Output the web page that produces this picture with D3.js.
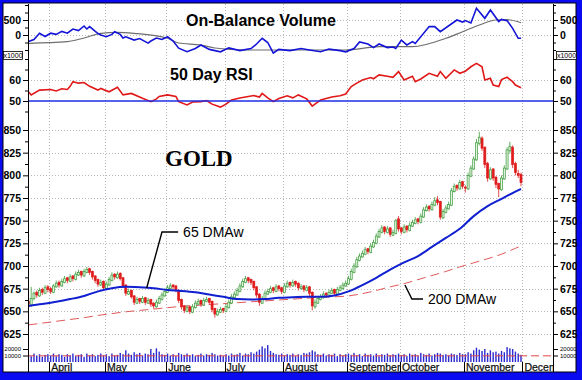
<!DOCTYPE html>
<html>
<head>
<meta charset="utf-8">
<script src="https://cdn.jsdelivr.net/npm/d3@7"></script>
<style>
body{margin:0;background:#fff;}
svg{display:block;font-family:Arial,"Liberation Sans",sans-serif;}
</style>
</head>
<body>
<svg id="chart" width="582" height="380"></svg>
<script>
// month labels and the trading-day index where each month starts
var monthNames = ["April","May","June","July","August","September","October","November","December"];
var monthStart = [8, 28, 50, 71, 92, 115, 134, 157, 178];

// daily gold candles [open, high, low, close], 21 Mar .. 30 Nov
var ohlc = [
  // March
  [661,665,655,658],[657,677,655,664],[664,672,662,670],[671,673,665,668],[667,676,666,673],[674,676,668,671],[670,679,669,676],[677,679,671,674],
  // April
  [675,677,669,672],[671,680,670,678],[677,684,676,681],[682,684,676,679],[678,686,677,683],[682,689,681,686],[687,688,681,684],[683,691,682,688],
  [689,690,683,686],[685,694,684,691],[690,696,689,693],[694,695,687,690],[689,697,688,694],[693,699,692,696],[697,698,690,693],[694,695,685,688],
  [689,690,681,684],[685,686,677,680],[679,685,678,682],[683,684,673,676],
  // May
  [675,683,674,680],[679,688,678,685],[684,693,683,690],[691,692,685,688],[687,694,686,691],[692,693,684,686],[687,688,676,678],[679,680,667,670],
  [669,675,668,672],[673,674,664,666],[667,668,657,660],[659,666,658,663],[664,665,658,661],[660,667,659,664],[665,666,657,660],[659,665,658,662],
  [663,664,655,658],[659,660,653,656],[655,663,654,660],[659,667,658,664],[663,671,662,668],[667,675,666,672],
  // June
  [671,679,670,676],[675,681,674,678],[679,680,674,677],[678,679,671,674],[673,674,659,662],[663,664,652,655],[656,657,648,651],[650,657,649,654],
  [655,656,647,650],[649,658,648,655],[654,662,653,659],[658,664,657,661],[662,663,655,658],[657,665,656,662],[661,666,660,663],[664,665,657,660],
  [661,662,649,652],[653,654,643,647],[646,653,645,650],[649,655,648,652],[653,654,648,651],
  // July
  [650,658,649,655],[654,663,653,660],[659,669,658,666],[665,672,664,669],[668,676,667,673],[672,681,671,678],[677,686,676,683],[682,689,681,686],
  [687,688,681,684],[685,686,679,682],[683,684,673,676],[677,678,665,668],[669,670,656,660],[659,667,658,664],[663,673,662,670],[669,675,668,672],
  [671,678,670,675],[676,677,670,673],[672,680,671,677],[678,679,672,675],[676,677,669,672],
  // August
  [671,681,670,678],[677,684,676,681],[682,683,676,679],[678,685,677,682],[683,684,677,680],[681,682,673,676],[675,680,674,677],[678,679,671,674],
  [673,679,672,676],[677,678,667,670],[671,672,651,656],[655,663,653,660],[659,667,658,664],[663,669,662,666],[665,672,664,669],[670,671,665,668],
  [667,674,666,671],[670,676,669,673],[674,675,667,670],[669,677,668,674],[673,679,672,676],[675,682,674,679],[678,684,677,681],
  // September
  [680,689,679,686],[685,697,684,694],[693,703,692,700],[699,710,698,707],[706,714,705,711],[710,717,709,714],[713,721,712,718],[719,720,713,716],
  [715,725,714,722],[721,729,720,726],[725,736,724,733],[732,741,731,738],[737,745,736,742],[743,744,735,738],[737,744,736,741],[742,743,732,735],
  [734,740,733,737],[736,752,735,750],[752,755,738,741],
  // October
  [742,743,735,738],[737,746,736,743],[744,745,737,740],[739,748,738,745],[744,751,743,748],[747,754,746,751],[752,753,746,749],[748,758,747,755],
  [754,765,753,762],[761,768,760,765],[766,767,760,763],[762,771,761,768],[767,776,766,772],[773,777,767,770],[771,772,751,754],[753,763,752,760],
  [759,767,758,764],[763,771,762,768],[767,786,766,783],[782,791,781,788],[789,790,783,786],[785,795,784,792],[793,794,785,788],
  // November
  [787,789,781,786],[785,803,784,800],[799,811,798,808],[807,821,806,818],[817,840,816,836],[835,848,833,842],[841,843,827,830],[831,832,808,812],
  [813,815,793,797],[796,809,795,806],[807,808,794,797],[798,799,786,790],[791,792,776,785],[784,800,783,797],[796,811,795,808],[807,831,806,828],
  [827,837,824,832],[831,833,808,812],[813,815,800,803],[802,806,797,800],[801,803,788,792]
];

// daily volume, thousands
var volume = [
  12,9,13,10,12,8,11,12,
  10,13,9,12,11,8,12,10,13,9,11,12,8,13,10,12,9,11,13,10,
  12,9,13,10,11,14,12,18,13,11,15,12,14,10,13,12,20,14,21,16,12,11,
  13,10,12,9,14,12,11,13,10,12,9,11,13,10,12,11,14,12,10,11,9,
  12,10,13,11,12,14,10,13,12,15,13,16,19,24,21,26,17,14,12,11,13,
  10,12,11,13,9,12,11,14,13,15,18,16,12,11,13,10,12,11,13,9,12,10,12,
  13,11,14,10,12,9,13,11,12,10,13,9,12,11,13,10,12,11,13,
  10,12,9,13,11,12,10,14,12,11,13,10,12,14,13,11,12,10,13,12,11,14,12,
  12,15,13,18,22,19,17,20,14,18,15,16,13,17,15,23,21,20,16,13,11
];
var volMaDays = [0, 189];
var volMa = [9.5, 9.5];

// moving averages, read every 5th trading day
var maDays = [0,5,10,15,20,25,30,35,40,45,50,55,60,65,70,75,80,85,90,95,100,105,110,115,120,125,130,135,140,145,150,155,160,165,170,175,177];
var ma65 = [656,658,660.5,663.5,667,672,675.5,677,676.5,675.5,673.5,672.5,671,668.5,666,663.5,663,663.5,665,665.5,666,666,667.5,672,679,687,696,704,711,721,731,741,755,766,774,782,785];
var ma200 = [635,637,639,641,643,645.5,647.5,649.5,651,652.5,654,655.5,656.5,657.5,658.5,659.5,660.5,661.5,662.5,663.5,664.5,665.5,666,667,669.5,673,677,680.5,685,689.5,694,699,703.5,708,713,719.5,722];

// on-balance volume (x1000) and its average
var obvDays = [0,2,4,6,8,10,12,14,16,18,20,21,22,25,26,28,30,31,33,34,35,38,40,43,44,46,48,50,52,54,57,60,62,65,69,72,76,80,82,84,86,88,90,94,98,101,105,108,112,114,117,119,122,124,126,129,131,132,134,136,138,139,144,146,148,154,156,157,159,161,164,166,169,170,172,174,176,177];
var obv = [-220,-150,56,-50,60,20,120,60,200,150,300,200,280,50,0,-56,20,110,20,-100,-60,-170,-120,-270,-200,-100,-150,-60,-200,-440,-555,-450,-333,-480,-560,-430,-520,-450,-300,-110,-250,-600,-480,-520,-450,-500,-560,-470,-520,-560,-450,-230,-300,-420,-300,-420,-400,-450,-170,-330,-220,-280,280,280,110,500,430,480,400,890,556,833,450,520,480,222,-110,-110];
var obvMaDays = [0,14,20,26,32,38,50,54,62,67,78,90,114,126,138,150,156,162,168,172,177];
var obvMa = [-277,-222,-100,56,90,56,-110,-267,-333,-433,-500,-500,-500,-390,-390,-110,110,333,500,510,410];

// 50 day RSI
var rsiDays = [0,1,4,8,10,12,14,15,16,18,20,22,25,26,29,32,34,37,41,44,46,47,50,53,54,57,59,62,64,66,69,71,73,76,78,81,83,84,86,88,90,93,95,97,100,102,105,107,109,112,114,116,118,120,123,124,126,129,131,133,135,138,139,141,144,147,148,150,153,155,157,159,161,163,164,166,167,169,170,172,174,175,177];
var rsi = [54.4,52.9,55.2,55.5,54.8,55.8,55.5,57,59.2,58.5,58.8,57,55.2,56,54.4,56.5,52.9,53.6,51.3,49.7,51,52.2,52.9,52.2,49.7,48.1,49.5,49.7,50.2,48.5,47.1,48.5,50.5,51.4,51.9,52.6,51.9,53.6,51.5,49.7,51.2,52.5,51.5,52.9,51,47.6,50.5,51.2,51.9,52.5,53.3,56.9,58.5,60,61.2,60.6,62.4,61.8,61.3,64,60,61.8,59.2,60.5,63.2,61.8,64,60.8,64.8,63.2,64.2,66.3,67.9,66.3,60,60.8,57.6,56.9,60.2,61.3,59.2,57.6,56.3];

// tick labels
var priceTicks = [625,650,675,700,725,750,775,800,825,850];
var obvTicks = [0, 500];
var rsiTicks = [50, 60];
var volTicks = [10, 20];

var svg = d3.select("#chart");
var W = 582, H = 380;
var L = 28, R = 553, T = 4, B = 362;

// frame
svg.append("rect").attr("width", W).attr("height", H).attr("fill", "#0a0af0");
svg.append("rect").attr("x", 3).attr("y", 3).attr("width", 573).attr("height", 369)
    .attr("fill", "#fff").attr("stroke", "#000").attr("stroke-width", 1);

var x = d3.scaleLinear().domain([0, 189]).range([27, 553]);
var yP = d3.scaleLinear().domain([625, 850]).range([334, 130]);
var yO = d3.scaleLinear().domain([0, 500]).range([35, 20]);
var yR = d3.scaleLinear().domain([50, 60]).range([101, 80]);
var yV = d3.scaleLinear().domain([0, 20]).range([362, 349]);

svg.append("clipPath").attr("id", "plot")
    .append("rect").attr("x", L).attr("y", T).attr("width", R - L).attr("height", B - T);
svg.append("clipPath").attr("id", "months")
    .append("rect").attr("x", L).attr("y", B).attr("width", R - L).attr("height", 12);

var grid = svg.append("g").attr("stroke", "#b8b8b8").attr("stroke-dasharray", "1,2").attr("stroke-width", 1);
grid.selectAll(".v").data(monthStart).enter().append("line")
    .attr("x1", function(d){ return Math.round(x(d)) + 0.5; })
    .attr("x2", function(d){ return Math.round(x(d)) + 0.5; })
    .attr("y1", T).attr("y2", B);
var hLines = priceTicks.map(yP).concat(obvTicks.map(yO), [yR(60)]);
grid.selectAll(".h").data(hLines).enter().append("line")
    .attr("x1", L).attr("x2", R)
    .attr("y1", function(d){ return Math.round(d) + 0.5; })
    .attr("y2", function(d){ return Math.round(d) + 0.5; });

var plot = svg.append("g").attr("clip-path", "url(#plot)");

// OBV panel
var obvPts = obvDays.map(function(d, i){ return [d, obv[i]]; });
var obvMaPts = obvMaDays.map(function(d, i){ return [d, obvMa[i]]; });
plot.append("path").datum(obvMaPts)
    .attr("d", d3.line().curve(d3.curveMonotoneX).x(function(d){ return x(d[0] + 0.5); }).y(function(d){ return yO(d[1]); }))
    .attr("fill", "none").attr("stroke", "#6e6e6e").attr("stroke-width", 1.2);
plot.append("path").datum(obvPts)
    .attr("d", d3.line().x(function(d){ return x(d[0] + 0.5); }).y(function(d){ return yO(d[1]); }))
    .attr("fill", "none").attr("stroke", "#1414d8").attr("stroke-width", 1.6);

// RSI panel
plot.append("path").datum(rsiDays.map(function(d, i){ return [d, rsi[i]]; }))
    .attr("d", d3.line().x(function(d){ return x(d[0] + 0.5); }).y(function(d){ return yR(d[1]); }))
    .attr("fill", "none").attr("stroke", "#e01818").attr("stroke-width", 1.6);
svg.append("line").attr("x1", L).attr("x2", R).attr("y1", yR(50)).attr("y2", yR(50))
    .attr("stroke", "#1e2ee6").attr("stroke-width", 1.6);

// volume
plot.append("g").selectAll("rect").data(volume).enter().append("rect")
    .attr("x", function(d, i){ return x(i + 0.5) - 0.7; })
    .attr("y", function(d){ return yV(d); })
    .attr("width", 1.4)
    .attr("height", function(d){ return yV(0) - yV(d); })
    .attr("fill", "#2a2ad0");
plot.append("path").datum(volMaDays.map(function(d, i){ return [d, volMa[i]]; }))
    .attr("d", d3.line().x(function(d){ return x(d[0]); }).y(function(d){ return yV(d[1]); }))
    .attr("fill", "none").attr("stroke", "#e04848").attr("stroke-width", 1).attr("stroke-dasharray", "8,4");

// moving averages
var maLine = function(vals){
    return d3.line().curve(d3.curveMonotoneX)
        .x(function(d, i){ return x(maDays[i] + 0.5); })
        .y(function(d){ return yP(d); })(vals);
};
plot.append("path").attr("d", maLine(ma200))
    .attr("fill", "none").attr("stroke", "#e05858").attr("stroke-width", 1).attr("stroke-dasharray", "9,5");

// candles
var candles = plot.append("g").selectAll("g").data(ohlc).enter().append("g");
candles.append("line")
    .attr("x1", function(d, i){ return x(i + 0.5); })
    .attr("x2", function(d, i){ return x(i + 0.5); })
    .attr("y1", function(d){ return yP(d[1]); })
    .attr("y2", function(d){ return yP(d[2]); })
    .attr("stroke", function(d){ return d[3] >= d[0] ? "#3a9a3a" : "#e01c1c"; })
    .attr("stroke-width", 0.8);
candles.append("rect")
    .attr("x", function(d, i){ return x(i + 0.5) - 1; })
    .attr("y", function(d){ return yP(Math.max(d[0], d[3])); })
    .attr("width", 2)
    .attr("height", function(d){ return Math.max(1, Math.abs(yP(d[0]) - yP(d[3]))); })
    .attr("fill", function(d){ return d[3] >= d[0] ? "#e6f5e2" : "#e01c1c"; })
    .attr("stroke", function(d){ return d[3] >= d[0] ? "#3a9a3a" : "#e01c1c"; })
    .attr("stroke-width", 0.7);

plot.append("path").attr("d", maLine(ma65))
    .attr("fill", "none").attr("stroke", "#1020d0").attr("stroke-width", 2);

// axes
var leftAxis = function(scale, vals, fmt){
    var g = svg.append("g").attr("transform", "translate(" + L + ",0)")
        .call(d3.axisLeft(scale).tickValues(vals).tickSize(5).tickPadding(2).tickFormat(fmt));
    g.select(".domain").remove();
    return g;
};
var rightAxis = function(scale, vals, fmt){
    var g = svg.append("g").attr("transform", "translate(" + R + ",0)")
        .call(d3.axisRight(scale).tickValues(vals).tickSize(5).tickPadding(2).tickFormat(fmt));
    g.select(".domain").remove();
    return g;
};
var minor = function(scale, vals){
    svg.append("g").attr("transform", "translate(" + L + ",0)")
        .call(d3.axisLeft(scale).tickValues(vals).tickSize(3).tickFormat(""))
        .select(".domain").remove();
    svg.append("g").attr("transform", "translate(" + R + ",0)")
        .call(d3.axisRight(scale).tickValues(vals).tickSize(3).tickFormat(""))
        .select(".domain").remove();
};
[leftAxis, rightAxis].forEach(function(ax){
    ax(yP, priceTicks, d3.format("d")).selectAll("text").attr("font-size", 10.5).attr("font-weight", "bold");
    ax(yO, obvTicks, d3.format("d")).selectAll("text").attr("font-size", 10.5).attr("font-weight", "bold");
    ax(yR, rsiTicks, d3.format("d")).selectAll("text").attr("font-size", 10.5).attr("font-weight", "bold");
    ax(yV, volTicks, function(d){ return d * 1000; }).selectAll("text").attr("font-size", 6);
});
minor(yP, d3.range(637.5, 850, 25));
minor(yO, [-500, -250, 250, 750, 1000]);
minor(yR, [45, 55, 65, 70]);

svg.append("line").attr("x1", L + 0.5).attr("x2", L + 0.5).attr("y1", T).attr("y2", 372).attr("stroke", "#000");
svg.append("line").attr("x1", R + 0.5).attr("x2", R + 0.5).attr("y1", T).attr("y2", 372).attr("stroke", "#000");

// x1000 boxes
[[3, 23], [556, 577]].forEach(function(p){
    svg.append("rect").attr("x", p[0] + 0.5).attr("y", 51.5).attr("width", p[1] - p[0] - 1).attr("height", 8)
        .attr("fill", "#fff").attr("stroke", "#000").attr("stroke-width", 0.8);
    svg.append("text").attr("x", (p[0] + p[1]) / 2).attr("y", 58).attr("text-anchor", "middle")
        .attr("font-size", 7).text("x1000");
});

// month axis
var months = svg.append("g");
months.selectAll("line").data(monthStart).enter().append("line")
    .attr("x1", function(d){ return Math.round(x(d)) + 0.5; })
    .attr("x2", function(d){ return Math.round(x(d)) + 0.5; })
    .attr("y1", B).attr("y2", 372).attr("stroke", "#000");
months.append("g").attr("clip-path", "url(#months)")
    .selectAll("text").data(monthNames).enter().append("text")
    .attr("x", function(d, i){ return x(monthStart[i]) + 2; })
    .attr("y", 371)
    .attr("font-size", 10.5).attr("fill", "#111")
    .attr("stroke", "#111").attr("stroke-width", 0.25)
    .text(function(d){ return d; });

// titles
svg.append("text").attr("x", 186).attr("y", 26).attr("font-size", 16).attr("font-weight", "bold").text("On-Balance Volume");
svg.append("text").attr("x", 170).attr("y", 80).attr("font-size", 16).attr("font-weight", "bold").text("50 Day RSI");
svg.append("text").attr("x", 165).attr("y", 166).attr("font-size", 23).attr("font-weight", "bold")
    .attr("font-family", "'Liberation Serif','Times New Roman',serif").text("GOLD");

// moving-average labels with leader lines
var notes = [
    {text: "65 DMAw", pts: [[43, 675.7], [48.5, 737.5], [54.3, 737.5]]},
    {text: "200 DMAw", pts: [[135.8, 679], [138.3, 663.6], [142.3, 663.6]]}
];
notes.forEach(function(n){
    svg.append("path")
        .attr("d", d3.line().x(function(d){ return x(d[0]); }).y(function(d){ return yP(d[1]); })(n.pts))
        .attr("fill", "none").attr("stroke", "#000").attr("stroke-width", 1.4);
    var last = n.pts[n.pts.length - 1];
    svg.append("text").attr("x", x(last[0]) + 5).attr("y", yP(last[1]) + 5)
        .attr("font-size", 14).text(n.text);
});
</script>
</body>
</html>
